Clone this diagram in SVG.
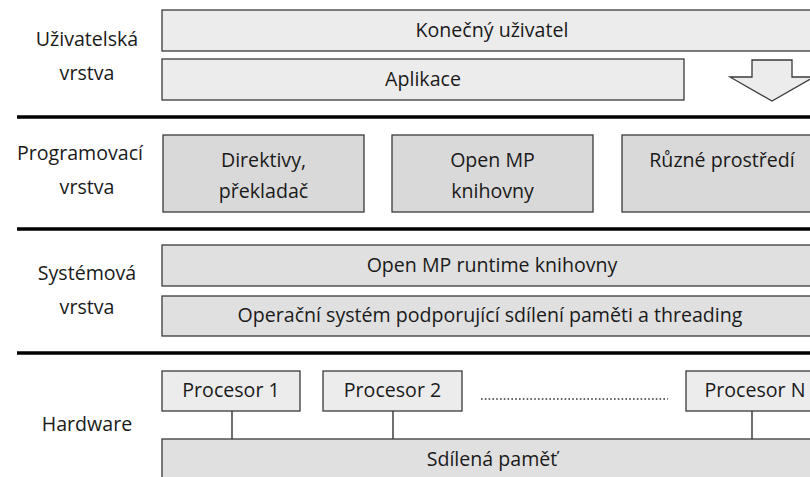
<svg xmlns="http://www.w3.org/2000/svg" width="810" height="477" viewBox="0 0 810 477">
  <style>
    text { font-family: "Open Sans", "Noto Sans", "Liberation Sans", sans-serif; font-size: 19.6px; fill: #1a1a1a; text-anchor: middle; }
    .box { stroke: #3a3a3a; stroke-width: 1.3; }
    .light { fill: #ececec; }
    .mid { fill: #e0e0e0; }
    .dark { fill: #d9d9d9; }
    .divider { stroke: #000; stroke-width: 3.5; }
    .wire { stroke: #222; stroke-width: 1.3; fill: none; }
  </style>
  <rect width="810" height="477" fill="#fff"/>

  <!-- layer labels -->
  <g id="labels">
    <text x="87" y="46">Uživatelská</text>
    <text x="87" y="80">vrstva</text>
    <text x="80" y="160">Programovací</text>
    <text x="87" y="194">vrstva</text>
    <text x="87" y="280">Systémová</text>
    <text x="87" y="314">vrstva</text>
    <text x="87" y="431">Hardware</text>
  </g>

  <!-- layer dividers -->
  <g id="dividers">
    <line class="divider" x1="17" y1="117" x2="810" y2="117"/>
    <line class="divider" x1="17" y1="229" x2="810" y2="229"/>
    <line class="divider" x1="17" y1="353" x2="810" y2="353"/>
  </g>

  <!-- user layer -->
  <g id="end-user">
    <rect class="box light" x="162" y="10" width="660" height="41"/>
    <text x="492" y="37">Konečný uživatel</text>
  </g>
  <g id="application">
    <rect class="box light" x="162" y="59" width="522" height="41"/>
    <text x="423" y="86">Aplikace</text>
  </g>
  <g id="down-arrow">
    <polygon class="box light" points="752,60 792,60 792,77 814,77 772,101 730,77 752,77"/>
  </g>

  <!-- programming layer -->
  <g id="directives">
    <rect class="box dark" x="163" y="135" width="201" height="77"/>
    <text x="263.5" y="167">Direktivy,</text>
    <text x="263.5" y="198">překladač</text>
  </g>
  <g id="omp-libraries">
    <rect class="box dark" x="392" y="135" width="201" height="77"/>
    <text x="492.5" y="167">Open MP</text>
    <text x="492.5" y="198">knihovny</text>
  </g>
  <g id="environments">
    <rect class="box dark" x="622" y="135" width="200" height="77"/>
    <text x="722" y="167">Různé prostředí</text>
  </g>

  <!-- system layer -->
  <g id="omp-runtime">
    <rect class="box mid" x="162" y="245" width="660" height="41"/>
    <text x="492" y="272">Open MP runtime knihovny</text>
  </g>
  <g id="operating-system">
    <rect class="box mid" x="162" y="296" width="660" height="40"/>
    <text x="490" y="322">Operační systém podporující sdílení paměti a threading</text>
  </g>

  <!-- hardware layer -->
  <g id="connectors">
    <line class="wire" x1="232" y1="411" x2="232" y2="440"/>
    <line class="wire" x1="393" y1="411" x2="393" y2="440"/>
    <line class="wire" x1="752" y1="411" x2="752" y2="440"/>
  </g>
  <g id="shared-memory">
    <rect class="box mid" x="162" y="439" width="660" height="50"/>
    <text x="492" y="466">Sdílená paměť</text>
  </g>
  <g id="cpu-1">
    <rect class="box light" x="162" y="371" width="138" height="40"/>
    <text x="231" y="397">Procesor 1</text>
  </g>
  <g id="cpu-2">
    <rect class="box light" x="323" y="371" width="139" height="40"/>
    <text x="392.5" y="397">Procesor 2</text>
  </g>
  <g id="ellipsis">
    <line x1="481" y1="399" x2="668" y2="399" stroke="#333" stroke-width="1.6" stroke-dasharray="1.6 2.2"/>
  </g>
  <g id="cpu-n">
    <rect class="box light" x="686" y="371" width="134" height="40"/>
    <text x="755" y="397">Procesor N</text>
  </g>
</svg>
